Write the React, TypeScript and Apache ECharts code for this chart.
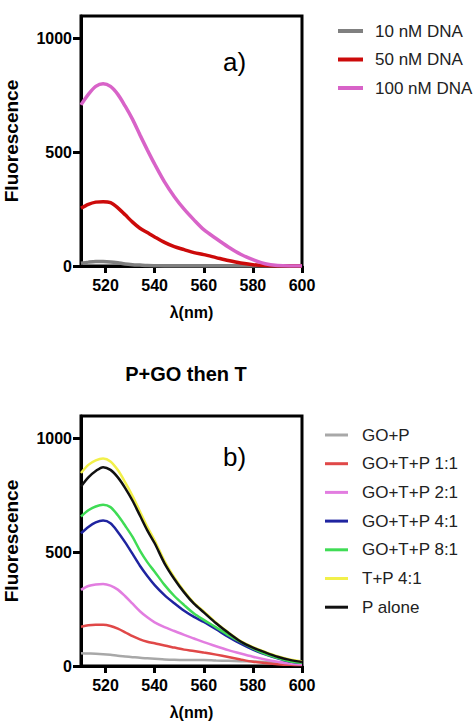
import React, { useEffect, useRef } from "react";
import * as echarts from "echarts";

const FONT = "'Liberation Sans', Arial, sans-serif";

const wavelengths = [510, 513, 516, 519, 522, 525, 528, 531, 534, 537, 540, 544, 548, 552, 556, 560, 565, 570, 575, 580, 585, 590, 595, 600];

// Panel a
const dna10 = [12, 17, 20, 20, 18, 14, 9, 6, 4, 2, 1, 0, 0, 0, 0, 0, 0, 0, 0, 0, 0, 0, 0, 0];
const dna50 = [254, 271, 281, 283, 279, 256, 225, 193, 166, 147, 128, 104, 85, 72, 59, 50, 37, 24, 13, 6, 2, 0, 0, 0];
const dna100 = [709, 755, 790, 802, 790, 755, 703, 645, 577, 511, 448, 370, 305, 250, 203, 160, 121, 84, 52, 28, 10, 2, 0, 0];

// Panel b
const goP = [56, 55, 54, 52, 49, 45, 42, 39, 36, 34, 32, 29, 27, 26, 26, 26, 24, 23, 21, 20, 18, 17, 16, 15];
const gotp11 = [173, 179, 181, 181, 176, 164, 148, 131, 117, 107, 100, 90, 81, 72, 66, 59, 50, 40, 29, 19, 13, 8, 5, 4];
const gotp21 = [335, 352, 359, 361, 354, 336, 307, 274, 241, 214, 192, 171, 154, 137, 121, 105, 87, 70, 55, 41, 29, 19, 11, 7];
const gotp41 = [584, 612, 632, 640, 628, 590, 544, 493, 441, 396, 356, 312, 276, 243, 216, 194, 162, 128, 98, 72, 51, 34, 20, 14];
const gotp81 = [658, 685, 702, 709, 699, 663, 617, 568, 508, 457, 415, 357, 308, 268, 231, 203, 170, 136, 106, 78, 53, 36, 21, 14];
const tp41 = [849, 885, 905, 913, 900, 862, 808, 748, 680, 612, 552, 462, 390, 329, 278, 240, 191, 148, 110, 83, 62, 43, 29, 20];
const pAlone = [790, 830, 858, 875, 863, 830, 783, 727, 662, 597, 540, 452, 383, 324, 274, 236, 188, 146, 108, 81, 60, 41, 27, 18];

const xTicks = [520, 540, 560, 580, 600];
const yTicks = [0, 500, 1000];

const seriesA = [
  { name: "10 nM DNA", values: dna10, color: "#808080" },
  { name: "50 nM DNA", values: dna50, color: "#cc0a0a" },
  { name: "100 nM DNA", values: dna100, color: "#d863c8" },
];
const seriesB = [
  { name: "GO+P", values: goP, color: "#a8a8a8" },
  { name: "GO+T+P 1:1", values: gotp11, color: "#e04848" },
  { name: "GO+T+P 2:1", values: gotp21, color: "#e27de0" },
  { name: "GO+T+P 4:1", values: gotp41, color: "#1f24a0" },
  { name: "GO+T+P 8:1", values: gotp81, color: "#3fdc55" },
  { name: "T+P 4:1", values: tp41, color: "#f2f04a" },
  { name: "P alone", values: pAlone, color: "#111111" },
];

const plain = (v: number) => String(v);

function xAxis(gridIndex: number) {
  return {
    type: "value",
    gridIndex,
    min: 510,
    max: 600,
    name: "λ(nm)",
    nameLocation: "middle",
    nameGap: 38,
    nameTextStyle: { fontFamily: FONT, fontSize: 16, fontWeight: "bold", color: "#000" },
    axisLine: { show: true, lineStyle: { color: "#000", width: 3 } },
    axisTick: { show: true, customValues: xTicks, length: 7, lineStyle: { color: "#000", width: 3 } },
    axisLabel: { customValues: xTicks, formatter: plain, margin: 11, fontFamily: FONT, fontSize: 16, fontWeight: "bold", color: "#000" },
    splitLine: { show: false },
  };
}

function yAxis(gridIndex: number) {
  return {
    type: "value",
    gridIndex,
    min: 0,
    max: 1100,
    name: "Fluorescence",
    nameLocation: "middle",
    nameGap: 60,
    nameRotate: 90,
    nameTextStyle: { fontFamily: FONT, fontSize: 19, fontWeight: "bold", color: "#000" },
    axisLine: { show: true, lineStyle: { color: "#000", width: 3 } },
    axisTick: { show: true, customValues: yTicks, length: 8, lineStyle: { color: "#000", width: 3 } },
    axisLabel: { customValues: yTicks, formatter: plain, margin: 9, fontFamily: FONT, fontSize: 16, fontWeight: "bold", color: "#000" },
    splitLine: { show: false },
  };
}

export default function App() {
  const ref = useRef<HTMLDivElement>(null);
  useEffect(() => {
    if (!ref.current) return;
    const chart = echarts.init(ref.current, undefined, { renderer: "svg" });
    const mk = (list: typeof seriesA, idx: number, width: number) =>
      list.map((s) => ({
        name: s.name,
        type: "line",
        xAxisIndex: idx,
        yAxisIndex: idx,
        showSymbol: false,
        smooth: 0.3,
        color: s.color,
        lineStyle: { color: s.color, width },
        data: wavelengths.map((w, i) => [w, s.values[i]]),
      }));
    chart.setOption({
      animation: false,
      backgroundColor: "#fff",
      grid: [
        { left: 81, top: 16, width: 221, height: 250, show: true, borderColor: "#000", borderWidth: 3, backgroundColor: "transparent" },
        { left: 81, top: 416, width: 221, height: 250, show: true, borderColor: "#000", borderWidth: 3, backgroundColor: "transparent" },
      ],
      xAxis: [xAxis(0), xAxis(1)],
      yAxis: [yAxis(0), yAxis(1)],
      legend: [
        {
          orient: "vertical",
          left: 333,
          top: 16,
          icon: "rect",
          itemWidth: 25,
          itemHeight: 4,
          itemGap: 8.5,
          data: seriesA.map((s) => s.name),
          textStyle: { fontFamily: FONT, fontSize: 17, color: "#222", lineHeight: 20, padding: [0, 0, 0, 7] },
        },
        {
          orient: "vertical",
          left: 320,
          top: 420,
          icon: "rect",
          itemWidth: 23,
          itemHeight: 3,
          itemGap: 8.7,
          data: seriesB.map((s) => s.name),
          textStyle: { fontFamily: FONT, fontSize: 17, color: "#222", lineHeight: 20, padding: [0, 0, 0, 9] },
        },
      ],
      graphic: [
        { type: "text", x: 223, y: 62, style: { text: "a)", font: `26px ${FONT}`, fill: "#000", verticalAlign: "middle", textVerticalAlign: "middle" } },
        { type: "text", x: 223, y: 457, style: { text: "b)", font: `26px ${FONT}`, fill: "#000", verticalAlign: "middle", textVerticalAlign: "middle" } },
        {
          type: "text",
          x: 186,
          y: 374,
          style: { text: "P+GO then T", font: `bold 20px ${FONT}`, fill: "#000", align: "center", textAlign: "center", verticalAlign: "middle", textVerticalAlign: "middle" },
        },
      ],
      series: [...mk(seriesA, 0, 3.5), ...mk(seriesB, 1, 2.5)],
    });
    return () => chart.dispose();
  }, []);
  return <div ref={ref} style={{ position: "absolute", left: 0, top: 0, width: 473, height: 727 }} />;
}
